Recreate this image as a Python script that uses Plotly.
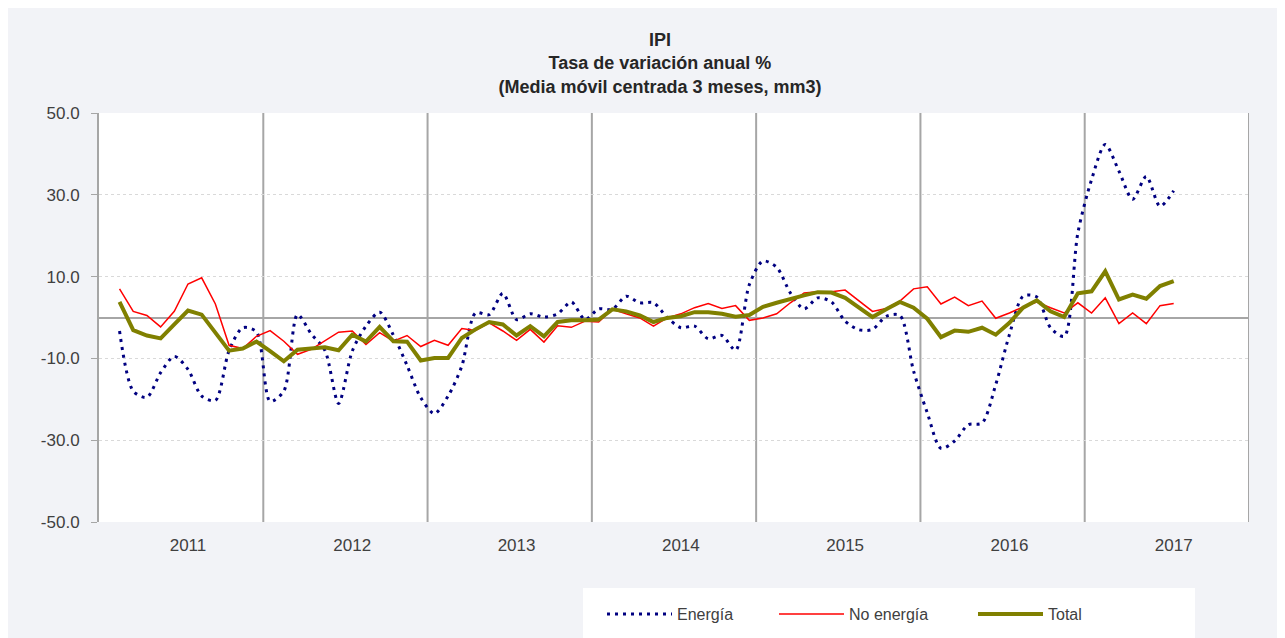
import plotly.graph_objects as go
import pandas as pd

# ---- data (monthly, Feb 2011 .. Jul 2017) ----
start_month = "2011-02"
end_month = "2017-07"
years = ["2011", "2012", "2013", "2014", "2015", "2016", "2017"]

energia = [-3.3, -18.0, -19.5, -13.5, -9.5, -12.7, -19.2, -20.3, -8.1, -2.5,
           -3.5, -20.5, -18.0, 0.7, -4.0, -8.0, -21.0, -8.2, -2.1, 1.3,
           -4.3, -11.7, -19.6, -23.5, -19.2, -11.9, 1.1, 0.7, 5.9, -0.5,
           0.9, 0.1, 0.9, 3.8, -0.5, 2.1, 2.0, 5.2, 3.6, 3.6,
           0.0, -2.5, -2.1, -5.2, -4.4, -8.0, 8.0, 13.8, 12.3, 6.0,
           2.1, 4.8, 3.8, -0.9, -3.0, -2.9, 0.3, 0.5, -13.1, -23.3,
           -32.0, -30.2, -26.2, -25.8, -16.4, -4.2, 5.2, 5.0, -2.5, -4.6,
           20.7, 33.7, 42.3, 35.8, 28.9, 34.5, 27.2, 31.0]

no_energia = [7.0, 1.5, 0.5, -2.3, 1.5, 8.2, 9.7, 3.3, -6.8, -7.6,
              -4.6, -3.2, -5.8, -9.0, -7.8, -5.6, -3.6, -3.3, -6.6, -3.7,
              -5.8, -4.4, -7.1, -5.6, -6.8, -2.7, -3.2, -1.3, -3.3, -5.6,
              -2.9, -6.0, -2.0, -2.4, -0.9, -1.1, 2.0, 0.9, -0.1, -2.1,
              -0.1, 0.9, 2.4, 3.4, 2.2, 2.9, -0.7, -0.1, 0.9, 3.6,
              6.0, 6.3, 6.3, 6.7, 4.0, 1.5, 2.2, 4.0, 7.0, 7.5,
              3.3, 5.0, 2.9, 4.0, -0.2, 1.1, 2.6, 3.8, 2.4, 1.1,
              3.6, 1.1, 4.8, -1.5, 1.1, -1.5, 2.9, 3.4]

total = [3.8, -3.1, -4.4, -5.1, -1.7, 1.7, 0.7, -3.7, -8.1, -7.6,
         -5.9, -8.2, -10.7, -7.9, -7.5, -7.3, -8.0, -4.2, -5.9, -2.3,
         -5.8, -5.9, -10.5, -9.9, -9.9, -5.0, -2.9, -1.1, -1.7, -4.4,
         -2.1, -4.6, -1.1, -0.7, -0.7, -0.5, 2.0, 1.5, 0.5, -1.1,
         -0.1, 0.3, 1.3, 1.3, 0.9, 0.2, 0.6, 2.6, 3.6, 4.6,
         5.4, 6.2, 6.1, 4.8, 2.4, 0.1, 2.0, 3.8, 2.4, -0.3,
         -4.8, -3.2, -3.5, -2.5, -4.2, -1.3, 2.4, 4.2, 1.5, 0.1,
         5.9, 6.4, 11.3, 4.4, 5.6, 4.6, 7.7, 8.9]

y_ticks = [-50, -30, -10, 10, 30, 50]
y_ticktext = ["-50.0", "-30.0", "-10.0", "10.0", "30.0", "50.0"]

# month position: 0 = Jan 2011
periods = pd.period_range(start_month, end_month, freq="M")
first_year = int(years[0])
x = [(p.year - first_year) * 12 + (p.month - 1) for p in periods]

year_centers = [i * 12 + 6 for i in range(len(years))]
year_bounds = [i * 12 - 0.5 for i in range(1, len(years) + 1)]

# layout geometry (figure px)
L, R, T, B = 91, 44, 105, 124
PW = 1285 - L - R
PH = 638 - T - B


def px_x(v):
    return (v - L) / PW


def px_y(v):
    return (T + PH - v) / PH


fig = go.Figure()
fig.add_trace(go.Scatter(
    x=x, y=energia, name="Energía", mode="lines", legend="legend",
    line=dict(color="#000080", width=3, dash="3px,5px", shape="spline", smoothing=0.8),
))
fig.add_trace(go.Scatter(
    x=x, y=no_energia, name="No energía", mode="lines", legend="legend2",
    line=dict(color="#ff0000", width=1.5),
))
fig.add_trace(go.Scatter(
    x=x, y=total, name="Total", mode="lines", legend="legend3",
    line=dict(color="#808000", width=4),
))

shapes = []
for b in year_bounds:
    shapes.append(dict(type="line", xref="x", yref="paper", x0=b, x1=b, y0=0, y1=1,
                       line=dict(color="#a6a6a6", width=2), layer="below"))
# legend white box
shapes.append(dict(type="rect", xref="paper", yref="paper",
                   x0=px_x(575), x1=px_x(1187),
                   y0=px_y(660), y1=px_y(580),
                   fillcolor="white", line=dict(width=0), layer="below"))

leg_common = dict(orientation="h", xanchor="left", yanchor="top", y=px_y(589),
                  bgcolor="rgba(0,0,0,0)", font=dict(size=16, color="#404040"),
                  itemwidth=65)

fig.update_layout(
    width=1285, height=638,
    paper_bgcolor="#f2f3f7", plot_bgcolor="white",
    margin=dict(l=L, r=R, t=T, b=B),
    font=dict(family="Liberation Sans, Arial, sans-serif", color="#404040"),
    title=dict(
        text="<b>IPI</b><br><b>Tasa de variación anual %</b><br><b>(Media móvil centrada 3 meses, mm3)</b>",
        x=652 / 1285, xanchor="center", xref="container",
        y=1 - 38 / 638, yanchor="top", yref="container",
        font=dict(size=18, color="#262626"),
    ),
    showlegend=True,
    legend=dict(x=px_x(594), **leg_common),
    legend2=dict(x=px_x(766), **leg_common),
    legend3=dict(x=px_x(965), **leg_common),
    shapes=shapes,
)

fig.update_xaxes(
    range=[-0.5, len(years) * 12 - 0.5],
    tickmode="array", tickvals=year_centers, ticktext=years,
    showgrid=False, zeroline=False, ticks="",
    tickfont=dict(size=17, color="#404040"),
    ticklabelstandoff=11,
    showline=False,
)
fig.update_yaxes(
    range=[-50, 50],
    tickmode="array", tickvals=y_ticks, ticktext=y_ticktext,
    showgrid=True, gridcolor="#d9d9d9", griddash="dot", gridwidth=1,
    zeroline=True, zerolinecolor="#a6a6a6", zerolinewidth=2,
    showline=True, linecolor="#a6a6a6", linewidth=2,
    ticks="outside", ticklen=6, tickcolor="#a6a6a6", tickwidth=1,
    tickfont=dict(size=17, color="#404040"),
    ticklabelstandoff=8,
)

fig.write_html("out.html")
